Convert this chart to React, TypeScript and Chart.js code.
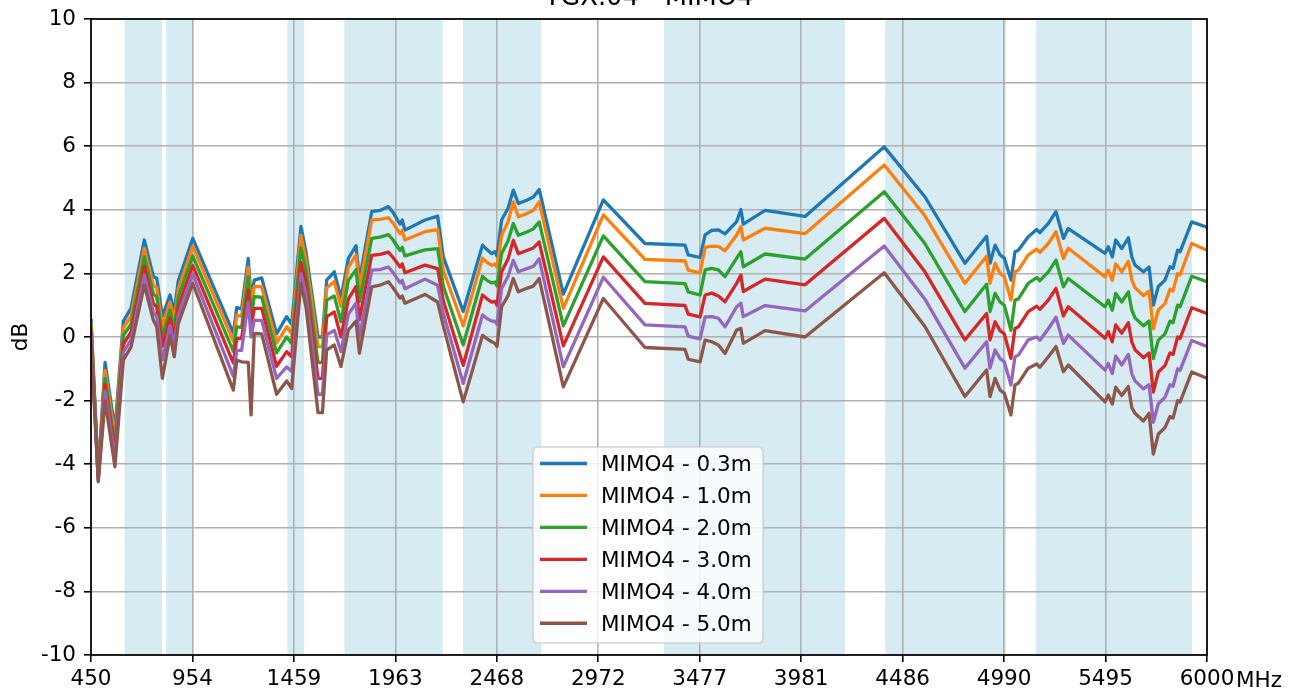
import React, { useEffect, useRef } from 'react';
import { Chart, registerables } from 'chart.js';

Chart.register(...registerables);

// ---------------- data ----------------
const TITLE = 'TGX.04 - MIMO4';
const Y_TITLE = 'dB';
const X_UNIT = 'MHz';
const X_MIN = 450;
const X_MAX = 6000;
const Y_MIN = -10;
const Y_MAX = 10;
const Y_STEP = 2;
const X_TICK_LABELS = ['450', '954', '1459', '1963', '2468', '2972', '3477', '3981', '4486', '4990', '5495', '6000'];

const BAND_START = [617, 824, 1427, 1710, 2300, 3300, 4400, 5150];
const BAND_END = [803, 960, 1510, 2200, 2690, 4200, 5000, 5925];

const SERIES_LABELS = ['MIMO4 - 0.3m', 'MIMO4 - 1.0m', 'MIMO4 - 2.0m', 'MIMO4 - 3.0m', 'MIMO4 - 4.0m', 'MIMO4 - 5.0m'];
const SERIES_COLORS = ['#1f77b4', '#ff7f0e', '#2ca02c', '#d62728', '#9467bd', '#8c564b'];

const FREQ = [
  450, 486, 520, 569, 611, 649, 715, 760, 777, 805,
  843, 864, 884, 956, 1158, 1175, 1199, 1232, 1246, 1262,
  1299, 1373, 1423, 1448, 1494, 1519, 1579, 1601, 1622, 1660,
  1693, 1730, 1768, 1785, 1846, 1887, 1929, 1952, 1987, 1998,
  2011, 2111, 2174, 2202, 2301, 2397, 2419, 2443, 2459, 2469,
  2492, 2524, 2550, 2575, 2617, 2650, 2679, 2799, 2998, 3205,
  3404, 3420, 3479, 3504, 3537, 3570, 3603, 3661, 3682, 3694,
  3802, 4001, 4395, 4597, 4796, 4904, 4921, 4946, 4971, 4992,
  5025, 5045, 5062, 5111, 5153, 5169, 5211, 5249, 5286, 5310,
  5493, 5509, 5529, 5546, 5576, 5609, 5626, 5642, 5684, 5712,
  5733, 5758, 5791, 5816, 5831, 5854, 5866, 5924, 6000,
];

const MIMO4_03 = [
  0.58, -4.3, -0.8, -2.92, 0.5, 0.9, 3.05, 1.9, 1.85, 0.65,
  1.32, 0.8, 1.76, 3.1, 0.12, 0.93, 0.88, 2.47, 1.2, 1.79,
  1.86, 0.1, 0.64, 0.4, 3.48, 2.68, 0.0, 0.0, 1.79, 2.05,
  1.22, 2.47, 2.87, 1.79, 3.94, 3.98, 4.1, 3.92, 3.55, 3.68,
  3.36, 3.68, 3.8, 2.52, 0.8, 2.89, 2.75, 2.62, 2.68, 2.55,
  3.68, 4.05, 4.62, 4.2, 4.3, 4.4, 4.64, 1.35, 4.31, 2.94,
  2.89, 2.58, 2.5, 3.21, 3.35, 3.37, 3.24, 3.63, 4.01, 3.55,
  3.98, 3.79, 5.98, 4.41, 2.32, 3.17, 2.32, 2.89, 2.58, 2.48,
  1.79, 2.68, 2.73, 3.15, 3.38, 3.28, 3.57, 3.94, 3.1, 3.41,
  2.63, 2.84, 2.52, 3.05, 2.78, 3.12, 2.52, 2.26, 2.05, 2.2,
  1.0, 1.59, 1.79, 2.21, 2.16, 2.73, 2.68, 3.62, 3.45,
];

const MIMO4_10 = [
  0.45, -4.35, -1.05, -3.15, 0.3, 0.65, 2.79, 1.62, 1.55, 0.32,
  1.1, 0.5, 1.5, 2.85, -0.14, 0.69, 0.65, 2.2, 0.9, 1.59,
  1.58, -0.19, 0.32, 0.1, 3.2, 2.42, -0.3, -0.3, 1.55, 1.74,
  0.96, 2.2, 2.58, 1.53, 3.68, 3.7, 3.75, 3.58, 3.25, 3.35,
  3.05, 3.31, 3.38, 2.1, 0.35, 2.48, 2.35, 2.25, 2.3, 2.2,
  3.2, 3.62, 4.25, 3.78, 3.88, 3.98, 4.25, 0.9, 3.84, 2.44,
  2.39, 2.1, 2.02, 2.82, 2.86, 2.85, 2.71, 3.21, 3.47, 3.05,
  3.42, 3.25, 5.41, 3.81, 1.69, 2.54, 1.69, 2.32, 2.0, 1.9,
  1.16, 2.05, 2.1, 2.58, 2.76, 2.66, 2.94, 3.31, 2.47, 2.79,
  1.89, 2.1, 1.78, 2.3, 2.05, 2.38, 1.8, 1.55, 1.3, 1.45,
  0.26, 0.85, 1.05, 1.5, 1.45, 2.0, 1.95, 2.94, 2.73,
];

const MIMO4_20 = [
  0.32, -4.4, -1.3, -3.4, 0.05, 0.4, 2.53, 1.35, 1.27, 0.0,
  0.85, 0.2, 1.25, 2.55, -0.45, 0.32, 0.3, 1.9, 0.6, 1.27,
  1.25, -0.5, 0.0, -0.2, 2.8, 2.1, -0.8, -0.8, 1.16, 1.29,
  0.48, 1.78, 2.12, 1.11, 3.1, 3.14, 3.22, 3.05, 2.72, 2.82,
  2.55, 2.74, 2.78, 1.6, -0.25, 1.91, 1.78, 1.7, 1.73, 1.6,
  2.63, 3.02, 3.57, 3.2, 3.3, 3.4, 3.62, 0.35, 3.18, 1.74,
  1.68, 1.42, 1.32, 2.11, 2.16, 2.11, 1.9, 2.48, 2.68, 2.21,
  2.61, 2.45, 4.57, 2.94, 0.8, 1.66, 0.8, 1.37, 1.1, 1.0,
  0.21, 1.16, 1.2, 1.69, 1.87, 1.77, 2.05, 2.42, 1.58, 1.84,
  0.95, 1.16, 0.84, 1.37, 1.1, 1.42, 0.85, 0.6, 0.35, 0.5,
  -0.68, -0.1, 0.1, 0.5, 0.45, 1.0, 0.95, 1.91, 1.74,
];

const MIMO4_30 = [
  0.18, -4.45, -1.5, -3.6, -0.22, 0.15, 2.23, 1.05, 0.95, -0.3,
  0.6, -0.05, 0.95, 2.25, -0.82, -0.05, -0.05, 1.48, 0.3, 0.9,
  0.9, -0.92, -0.46, -0.62, 2.35, 1.73, -1.3, -1.3, 0.64, 0.79,
  0.0, 1.2, 1.58, 0.55, 2.57, 2.6, 2.67, 2.5, 2.2, 2.3,
  2.02, 2.26, 2.15, 1.15, -0.89, 1.32, 1.2, 1.1, 1.12, 1.0,
  2.05, 2.45, 3.04, 2.62, 2.72, 2.8, 2.99, -0.28, 2.52, 1.06,
  0.99, 0.72, 0.63, 1.32, 1.38, 1.29, 1.11, 1.69, 1.95, 1.43,
  1.82, 1.64, 3.73, 2.05, -0.09, 0.74, -0.09, 0.48, 0.2, 0.1,
  -0.67, 0.27, 0.32, 0.8, 0.97, 0.87, 1.16, 1.53, 0.66, 0.95,
  -0.04, 0.17, -0.15, 0.38, 0.12, 0.45, -0.15, -0.4, -0.65, -0.5,
  -1.73, -1.1, -0.9, -0.5, -0.55, 0.0, -0.05, 0.92, 0.74,
];

const MIMO4_40 = [
  0.05, -4.5, -1.7, -3.85, -0.47, -0.1, 1.95, 0.78, 0.65, -0.72,
  0.35, -0.3, 0.68, 1.98, -1.24, -0.42, -0.42, 1.1, 0.0, 0.53,
  0.52, -1.3, -0.94, -1.08, 2.0, 1.36, -1.8, -1.8, 0.07, 0.21,
  -0.46, 0.72, 1.06, -0.02, 2.1, 2.12, 2.2, 2.03, 1.7, 1.78,
  1.52, 1.82, 1.63, 0.75, -1.46, 0.69, 0.58, 0.5, 0.5, 0.4,
  1.53, 1.9, 2.41, 2.05, 2.15, 2.22, 2.46, -0.94, 1.88, 0.38,
  0.32, 0.03, -0.06, 0.63, 0.64, 0.59, 0.32, 0.95, 1.06, 0.64,
  0.99, 0.82, 2.86, 1.19, -0.98, -0.15, -0.98, -0.41, -0.68, -0.78,
  -1.51, -0.62, -0.57, -0.09, 0.0, -0.1, 0.26, 0.62, -0.2, 0.06,
  -1.04, -0.83, -1.15, -0.6, -0.88, -0.55, -1.15, -1.38, -1.63, -1.5,
  -2.68, -2.1, -1.9, -1.5, -1.55, -1.0, -1.05, -0.11, -0.3,
];

const MIMO4_50 = [
  -0.08, -4.55, -2.0, -4.08, -0.72, -0.32, 1.64, 0.53, 0.32, -1.3,
  0.05, -0.62, 0.42, 1.69, -1.67, -0.73, -0.78, -0.8, -2.45, 0.11,
  0.1, -1.8, -1.38, -1.62, 1.7, 0.94, -2.38, -2.38, -0.41, -0.25,
  -0.93, 0.22, 0.5, -0.51, 1.58, 1.63, 1.74, 1.55, 1.22, 1.29,
  1.06, 1.34, 1.1, 0.35, -2.04, 0.05, -0.05, -0.15, -0.2, -0.3,
  0.95, 1.3, 1.84, 1.42, 1.53, 1.6, 1.84, -1.57, 1.21, -0.33,
  -0.39, -0.7, -0.78, -0.1, -0.15, -0.25, -0.52, 0.22, 0.27, -0.2,
  0.2, 0.0, 2.02, 0.33, -1.87, -1.04, -1.87, -1.3, -1.67, -1.77,
  -2.45, -1.51, -1.45, -0.98, -0.85, -0.95, -0.62, -0.3, -1.09, -0.88,
  -2.04, -1.82, -2.11, -1.58, -1.84, -1.56, -2.22, -2.4, -2.64, -2.4,
  -3.68, -3.05, -2.85, -2.5, -2.55, -2.0, -2.05, -1.1, -1.3,
];

const SERIES_VALUES = [MIMO4_03, MIMO4_10, MIMO4_20, MIMO4_30, MIMO4_40, MIMO4_50];

// ---------------- styling ----------------
const FONT = "'DejaVu Sans', 'Liberation Sans', sans-serif";
const FS = 21.5;
const CANVAS_W = 1305;
const CANVAS_H = 712;
const SHIFT = 20; // canvas is moved up so the title is cut off like the reference

const bandsPlugin = {
  id: 'bands',
  beforeDraw(chart: any) {
    const { ctx, chartArea, scales } = chart;
    ctx.save();
    ctx.fillStyle = '#ffffff';
    ctx.fillRect(0, 0, chart.width, chart.height);
    ctx.beginPath();
    ctx.rect(chartArea.left, chartArea.top, chartArea.right - chartArea.left, chartArea.bottom - chartArea.top);
    ctx.clip();
    ctx.fillStyle = 'rgba(173,216,230,0.5)';
    BAND_START.forEach((s, i) => {
      const x0 = scales.x.getPixelForValue(s);
      const x1 = scales.x.getPixelForValue(BAND_END[i]);
      ctx.fillRect(x0, chartArea.top, x1 - x0, chartArea.bottom - chartArea.top);
    });
    ctx.restore();
  },
};

const framePlugin = {
  id: 'frame',
  afterDatasetsDraw(chart: any) {
    const { ctx, chartArea } = chart;
    ctx.save();
    ctx.strokeStyle = '#000000';
    ctx.lineWidth = 1.7;
    ctx.strokeRect(chartArea.left, chartArea.top, chartArea.right - chartArea.left, chartArea.bottom - chartArea.top);
    ctx.restore();
  },
  afterDraw(chart: any) {
    const { ctx, chartArea } = chart;
    ctx.save();
    // title (centred over the axes)
    ctx.fillStyle = '#000';
    ctx.font = `${FS * 1.2}px ${FONT}`;
    ctx.textAlign = 'center';
    ctx.textBaseline = 'alphabetic';
    ctx.fillText(TITLE, (chartArea.left + chartArea.right) / 2, SHIFT + 5);

    // unit after last x tick
    ctx.font = `${FS}px ${FONT}`;
    ctx.textAlign = 'left';
    ctx.fillText(X_UNIT, chartArea.right + 29, chartArea.bottom + 32);

    // legend
    const bx = 533, by = 447 + SHIFT, bw = 230, bh = 196, r = 5;
    ctx.beginPath();
    ctx.moveTo(bx + r, by);
    ctx.lineTo(bx + bw - r, by);
    ctx.quadraticCurveTo(bx + bw, by, bx + bw, by + r);
    ctx.lineTo(bx + bw, by + bh - r);
    ctx.quadraticCurveTo(bx + bw, by + bh, bx + bw - r, by + bh);
    ctx.lineTo(bx + r, by + bh);
    ctx.quadraticCurveTo(bx, by + bh, bx, by + bh - r);
    ctx.lineTo(bx, by + r);
    ctx.quadraticCurveTo(bx, by, bx + r, by);
    ctx.closePath();
    ctx.fillStyle = 'rgba(255,255,255,0.8)';
    ctx.fill();
    ctx.strokeStyle = 'rgba(204,204,204,0.8)';
    ctx.lineWidth = 1.7;
    ctx.stroke();

    chart.data.datasets.forEach((ds: any, i: number) => {
      const cy = 463.5 + SHIFT + i * 31.95;
      ctx.strokeStyle = ds.borderColor;
      ctx.lineWidth = 3.3;
      ctx.lineCap = 'butt';
      ctx.beginPath();
      ctx.moveTo(540, cy);
      ctx.lineTo(587, cy);
      ctx.stroke();
      ctx.fillStyle = '#000';
      ctx.font = `${FS}px ${FONT}`;
      ctx.textAlign = 'left';
      ctx.textBaseline = 'alphabetic';
      ctx.fillText(ds.label, 601, cy + FS * 0.3645);
    });
    ctx.restore();
  },
};

export default function App() {
  const ref = useRef<HTMLCanvasElement | null>(null);

  useEffect(() => {
    if (!ref.current) return;
    const datasets = SERIES_LABELS.map((label, i) => ({
      label,
      data: FREQ.map((f, k) => ({ x: f, y: SERIES_VALUES[i][k] })),
      borderColor: SERIES_COLORS[i],
      backgroundColor: SERIES_COLORS[i],
      borderWidth: 3.3,
      borderJoinStyle: 'round' as const,
      pointRadius: 0,
      tension: 0,
      fill: false,
      order: SERIES_LABELS.length - i,
    }));

    const gridCommon = {
      color: '#b0b0b0',
      lineWidth: 1.6,
      tickLength: 7,
      tickColor: '#000000',
      tickWidth: 1.6,
      drawTicks: true,
    };

    const chart = new Chart(ref.current, {
      type: 'line',
      data: { datasets },
      options: {
        animation: false,
        responsive: false,
        maintainAspectRatio: false,
        events: [],
        layout: { padding: { top: 39, right: CANVAS_W - 1207, bottom: 0, left: 0 } },
        plugins: {
          legend: { display: false },
          title: { display: false },
          tooltip: { enabled: false },
        },
        scales: {
          x: {
            type: 'linear',
            min: X_MIN,
            max: X_MAX,
            afterBuildTicks: (scale: any) => {
              scale.ticks = X_TICK_LABELS.map((_, i) => ({
                value: X_MIN + (i * (X_MAX - X_MIN)) / (X_TICK_LABELS.length - 1),
              }));
            },
            afterFit: (scale: any) => {
              scale.height = 37;
            },
            ticks: {
              autoSkip: false,
              maxRotation: 0,
              minRotation: 0,
              padding: 5,
              color: '#000',
              font: { family: FONT, size: FS },
              callback: (_v: any, i: number) => X_TICK_LABELS[i],
            },
            grid: gridCommon,
            border: { display: false },
          },
          y: {
            min: Y_MIN,
            max: Y_MAX,
            afterFit: (scale: any) => {
              scale.width = 91;
            },
            ticks: {
              stepSize: Y_STEP,
              padding: 8,
              color: '#000',
              font: { family: FONT, size: FS },
            },
            title: {
              display: true,
              text: Y_TITLE,
              color: '#000',
              font: { family: FONT, size: FS },
              padding: { top: 8.4, bottom: 0 },
            },
            grid: gridCommon,
            border: { display: false },
          },
        },
      },
      plugins: [bandsPlugin, framePlugin],
    } as any);

    return () => chart.destroy();
  }, []);

  return (
    <div style={{ position: 'absolute', left: 0, top: -SHIFT, width: CANVAS_W, height: CANVAS_H }}>
      <canvas ref={ref} width={CANVAS_W} height={CANVAS_H} style={{ width: CANVAS_W, height: CANVAS_H, display: 'block' }} />
    </div>
  );
}
